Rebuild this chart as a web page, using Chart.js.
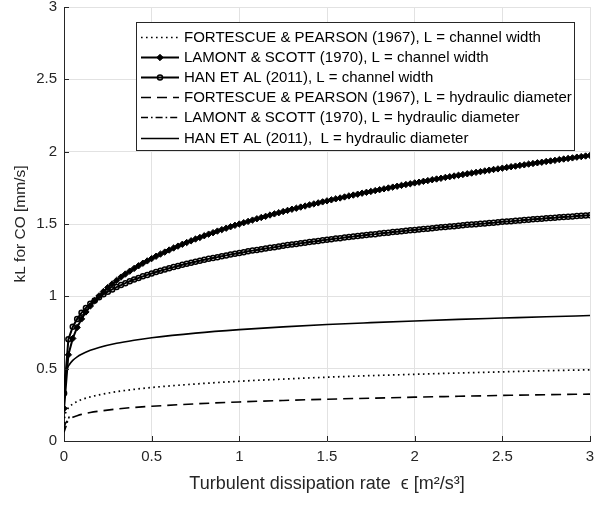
<!DOCTYPE html>
<html>
<head>
<meta charset="utf-8">
<script src="https://cdn.jsdelivr.net/npm/chart.js@4.4.1/dist/chart.umd.min.js"></script>
<style>
  html, body { margin: 0; padding: 0; background: #fff; }
  #wrap { width: 594px; height: 505px; }
</style>
</head>
<body>
<div id="wrap"><canvas id="grafico" width="594" height="505"></canvas></div>
<script>
// ---------------------------------------------------------
// DATOS
// ---------------------------------------------------------
const legendLabels = [
  'FORTESCUE & PEARSON (1967), L = channel width',
  'LAMONT & SCOTT (1970), L = channel width',
  'HAN ET AL (2011), L = channel width',
  'FORTESCUE & PEARSON (1967), L = hydraulic diameter',
  'LAMONT & SCOTT (1970), L = hydraulic diameter',
  'HAN ET AL (2011),  L = hydraulic diameter'
];

const xTickValues = [0, 0.5, 1, 1.5, 2, 2.5, 3];
const xTickLabels = ['0', '0.5', '1', '1.5', '2', '2.5', '3'];
const yTickValues = [0, 0.5, 1, 1.5, 2, 2.5, 3];
const yTickLabels = ['0', '0.5', '1', '1.5', '2', '2.5', '3'];

// epsilon para las curvas con marcadores
const epsMarked = [0.0005,
  0.025,0.05,0.075,0.1,0.125,0.15,0.175,0.2,0.225,0.25,
  0.275,0.3,0.325,0.35,0.375,0.4,0.425,0.45,0.475,0.5,
  0.525,0.55,0.575,0.6,0.625,0.65,0.675,0.7,0.725,0.75,
  0.775,0.8,0.825,0.85,0.875,0.9,0.925,0.95,0.975,1,
  1.025,1.05,1.075,1.1,1.125,1.15,1.175,1.2,1.225,1.25,
  1.275,1.3,1.325,1.35,1.375,1.4,1.425,1.45,1.475,1.5,
  1.525,1.55,1.575,1.6,1.625,1.65,1.675,1.7,1.725,1.75,
  1.775,1.8,1.825,1.85,1.875,1.9,1.925,1.95,1.975,2,
  2.025,2.05,2.075,2.1,2.125,2.15,2.175,2.2,2.225,2.25,
  2.275,2.3,2.325,2.35,2.375,2.4,2.425,2.45,2.475,2.5,
  2.525,2.55,2.575,2.6,2.625,2.65,2.675,2.7,2.725,2.75,
  2.775,2.8,2.825,2.85,2.875,2.9,2.925,2.95,2.975,3];

const lamontChannel = [0.225,
  0.596,0.709,0.785,0.844,0.892,0.933,0.970,1.003,1.033,1.061,
  1.086,1.110,1.133,1.154,1.174,1.193,1.211,1.229,1.245,1.261,
  1.277,1.292,1.306,1.320,1.334,1.347,1.360,1.372,1.384,1.396,
  1.407,1.419,1.430,1.440,1.451,1.461,1.471,1.481,1.491,1.500,
  1.509,1.518,1.527,1.536,1.545,1.553,1.562,1.570,1.578,1.586,
  1.594,1.602,1.609,1.617,1.624,1.632,1.639,1.646,1.653,1.660,
  1.667,1.674,1.680,1.687,1.694,1.700,1.706,1.713,1.719,1.725,
  1.731,1.737,1.743,1.749,1.755,1.761,1.767,1.773,1.778,1.784,
  1.789,1.795,1.800,1.806,1.811,1.816,1.822,1.827,1.832,1.837,
  1.842,1.847,1.852,1.857,1.862,1.867,1.872,1.877,1.881,1.886,
  1.891,1.896,1.900,1.905,1.909,1.914,1.918,1.923,1.927,1.932,
  1.936,1.940,1.945,1.949,1.953,1.957,1.962,1.966,1.970,1.974];

const hanChannel = [0.33,
  0.703,0.789,0.844,0.886,0.919,0.948,0.972,0.994,1.014,1.032,
  1.048,1.064,1.078,1.091,1.104,1.116,1.127,1.138,1.148,1.158,
  1.168,1.177,1.185,1.194,1.202,1.210,1.218,1.225,1.232,1.239,
  1.246,1.253,1.259,1.265,1.271,1.277,1.283,1.289,1.295,1.300,
  1.305,1.311,1.316,1.321,1.326,1.331,1.335,1.340,1.345,1.349,
  1.354,1.358,1.362,1.367,1.371,1.375,1.379,1.383,1.387,1.391,
  1.395,1.399,1.402,1.406,1.410,1.413,1.417,1.420,1.424,1.427,
  1.430,1.434,1.437,1.440,1.444,1.447,1.450,1.453,1.456,1.459,
  1.462,1.465,1.468,1.471,1.474,1.477,1.480,1.483,1.485,1.488,
  1.491,1.494,1.496,1.499,1.502,1.504,1.507,1.509,1.512,1.515,
  1.517,1.519,1.522,1.524,1.527,1.529,1.532,1.534,1.536,1.539,
  1.541,1.543,1.546,1.548,1.550,1.552,1.555,1.557,1.559,1.561];

// epsilon para las curvas sin marcadores
const epsLine = [0.0005,0.005,0.01,0.02,0.03,0.05,0.075,0.1,0.15,0.2,0.3,0.4,0.5,0.75,1,1.25,1.5,1.75,2,2.25,2.5,2.75,3];
const fortChannel   = [0.122,0.177,0.198,0.221,0.236,0.256,0.273,0.286,0.305,0.319,0.341,0.357,0.370,0.394,0.413,0.428,0.441,0.452,0.461,0.470,0.478,0.486,0.492];
const fortHydraulic = [0.076,0.111,0.125,0.140,0.150,0.164,0.175,0.184,0.197,0.206,0.221,0.232,0.240,0.257,0.270,0.280,0.289,0.296,0.303,0.309,0.315,0.320,0.324];
const hanHydraulic  = [0.339,0.435,0.468,0.505,0.527,0.557,0.582,0.600,0.627,0.647,0.676,0.697,0.714,0.746,0.770,0.789,0.805,0.818,0.830,0.841,0.850,0.859,0.867];

// tramo visible de la curva punto-raya (el resto queda bajo LAMONT & SCOTT)
const epsLamontHyd = [0, 0.03];
const lamontHydraulic = [0.06, 0.17];

// ---------------------------------------------------------
// ESTILO
// ---------------------------------------------------------
const INK = '#262626';
const FONT = "'Liberation Sans', Arial, sans-serif";
const toPoints = (xs, ys) => xs.map((x, i) => ({ x: x, y: ys[i] }));

// Ticks hacia dentro, estilo MATLAB
const ejesInternos = {
  id: 'ejesInternos',
  afterDraw(chart) {
    const { ctx, chartArea: a, scales: { x, y } } = chart;
    ctx.save();
    ctx.strokeStyle = INK;
    ctx.lineWidth = 1;
    ctx.beginPath();
    xTickValues.forEach(v => {
      const px = Math.round(x.getPixelForValue(v)) + 0.5;
      ctx.moveTo(px, a.bottom);
      ctx.lineTo(px, a.bottom - 5);
    });
    yTickValues.forEach(v => {
      const py = Math.round(y.getPixelForValue(v)) + 0.5;
      ctx.moveTo(a.left, py);
      ctx.lineTo(a.left + 5, py);
    });
    ctx.stroke();
    ctx.restore();
  }
};

// Leyenda en caja blanca dentro del área del gráfico
const leyendaCaja = {
  id: 'leyendaCaja',
  afterDraw(chart) {
    const ctx = chart.ctx;
    const x0 = 136, y0 = 22, w = 438, h = 128;
    ctx.save();
    ctx.fillStyle = '#fff';
    ctx.fillRect(x0, y0, w, h);
    ctx.strokeStyle = INK;
    ctx.lineWidth = 1;
    ctx.strokeRect(x0 + 0.5, y0 + 0.5, w, h);

    chart.data.datasets.forEach((ds, i) => {
      const yy = Math.round(y0 + 15 + i * 20.1) + 0.5;
      ctx.strokeStyle = '#000';
      ctx.lineWidth = ds.borderWidth;
      ctx.setLineDash(ds.borderDash || []);
      ctx.beginPath();
      ctx.moveTo(141, yy);
      ctx.lineTo(179, yy);
      ctx.stroke();
      ctx.setLineDash([]);
      if (ds.pointRadius > 0) {
        const cx = 160, r = ds.pointRadius;
        ctx.lineWidth = ds.pointBorderWidth;
        ctx.beginPath();
        if (ds.pointStyle === 'rectRot') {
          ctx.moveTo(cx, yy - r); ctx.lineTo(cx + r, yy);
          ctx.lineTo(cx, yy + r); ctx.lineTo(cx - r, yy);
          ctx.closePath();
          ctx.fillStyle = '#000';
          ctx.fill();
        } else {
          ctx.arc(cx, yy, r, 0, Math.PI * 2);
        }
        ctx.stroke();
      }
      ctx.fillStyle = '#000';
      ctx.font = '15px ' + FONT;
      ctx.textBaseline = 'middle';
      ctx.fillText(legendLabels[i], 184, yy + 0.5);
    });
    ctx.restore();
  }
};

// ---------------------------------------------------------
// GRÁFICO
// ---------------------------------------------------------
new Chart(document.getElementById('grafico'), {
  type: 'scatter',
  data: {
    datasets: [
      { label: legendLabels[0], data: toPoints(epsLine, fortChannel), showLine: true,
        borderColor: '#000', borderWidth: 1.7, borderDash: [1.6, 3.4], pointRadius: 0,
        cubicInterpolationMode: 'monotone' },
      { label: legendLabels[1], data: toPoints(epsMarked, lamontChannel), showLine: true,
        borderColor: '#000', borderWidth: 2, pointStyle: 'rectRot', pointRadius: 3.2,
        pointBackgroundColor: '#000', pointBorderColor: '#000', pointBorderWidth: 1 },
      { label: legendLabels[2], data: toPoints(epsMarked, hanChannel), showLine: true,
        borderColor: '#000', borderWidth: 2, pointStyle: 'circle', pointRadius: 2.5,
        pointBackgroundColor: 'rgba(0,0,0,0)', pointBorderColor: '#000', pointBorderWidth: 1.5 },
      { label: legendLabels[3], data: toPoints(epsLine, fortHydraulic), showLine: true,
        borderColor: '#000', borderWidth: 1.6, borderDash: [10, 6], pointRadius: 0,
        cubicInterpolationMode: 'monotone' },
      { label: legendLabels[4], data: toPoints(epsLamontHyd, lamontHydraulic), showLine: true,
        borderColor: '#000', borderWidth: 1.6, borderDash: [7, 3, 1.6, 3], pointRadius: 0 },
      { label: legendLabels[5], data: toPoints(epsLine, hanHydraulic), showLine: true,
        borderColor: '#000', borderWidth: 1.6, pointRadius: 0,
        cubicInterpolationMode: 'monotone' }
    ]
  },
  options: {
    responsive: false,
    animation: false,
    devicePixelRatio: 1,
    layout: { autoPadding: false, padding: { top: 7, right: 4, left: 0, bottom: 0 } },
    plugins: { legend: { display: false }, tooltip: { enabled: false } },
    scales: {
      x: {
        type: 'linear', min: 0, max: 3,
        afterBuildTicks: (axis) => { axis.ticks = xTickValues.map(v => ({ value: v })); },
        afterFit: (axis) => { axis.height = 64; axis.paddingLeft = 0; axis.paddingRight = 0; },
        grid: { color: '#e2e2e2', drawTicks: false },
        border: { display: true, color: INK, width: 1 },
        ticks: { color: INK, padding: 7, font: { family: FONT, size: 15 },
                 callback: (v, i) => xTickLabels[i] },
        title: { display: true, text: 'Turbulent dissipation rate  ϵ [m²/s³]', color: INK,
                 font: { family: FONT, size: 18 }, padding: { bottom: 10 } }
      },
      y: {
        type: 'linear', min: 0, max: 3,
        afterBuildTicks: (axis) => { axis.ticks = yTickValues.map(v => ({ value: v })); },
        afterFit: (axis) => { axis.width = 64; axis.paddingTop = 0; axis.paddingBottom = 0; },
        grid: { color: '#e2e2e2', drawTicks: false },
        border: { display: true, color: INK, width: 1 },
        ticks: { color: INK, padding: 7, font: { family: FONT, size: 15 },
                 callback: (v, i) => yTickLabels[i] },
        title: { display: true, text: 'kL for CO [mm/s]', color: INK,
                 font: { family: FONT, size: 15.5 }, padding: { top: 11 } }
      }
    }
  },
  plugins: [ejesInternos, leyendaCaja]
});
</script>
</body>
</html>
